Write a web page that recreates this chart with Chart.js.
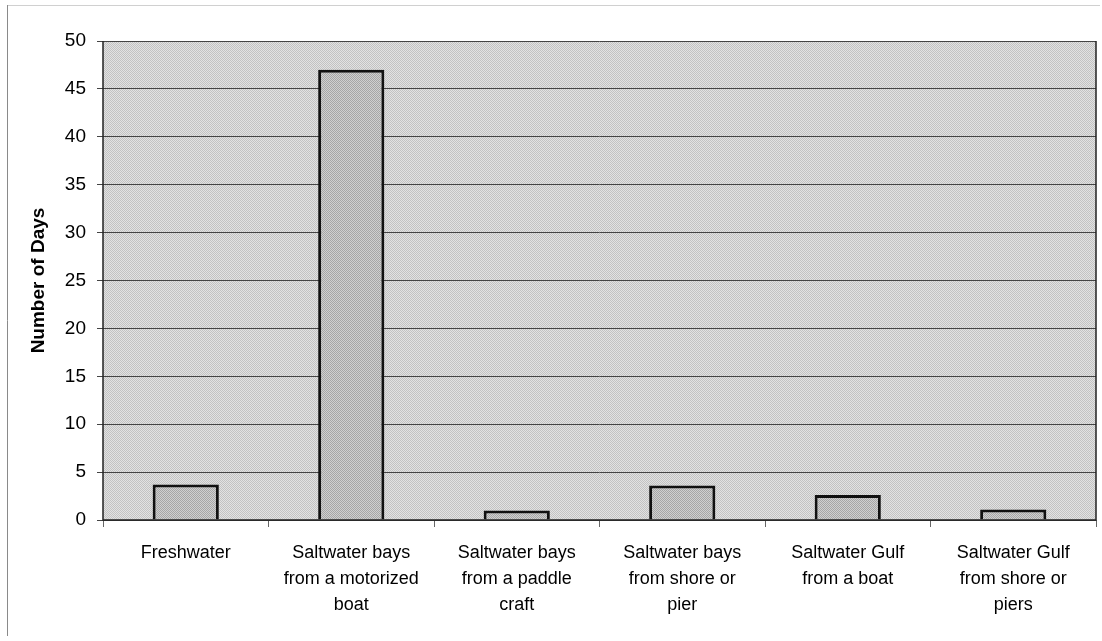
<!DOCTYPE html>
<html>
<head>
<meta charset="utf-8">
<script src="https://cdn.jsdelivr.net/npm/chart.js@4/dist/chart.umd.min.js"></script>
<style>
  html, body { margin: 0; padding: 0; background: #fff; }
  #wrap { width: 1102px; height: 641px; position: relative; }
</style>
</head>
<body>
<div id="wrap"><canvas id="daysChart" width="1102" height="641"></canvas></div>
<script>
const categories = [
    ['Freshwater'],
    ['Saltwater bays', 'from a motorized', 'boat'],
    ['Saltwater bays', 'from a paddle', 'craft'],
    ['Saltwater bays', 'from shore or', 'pier'],
    ['Saltwater Gulf', 'from a boat'],
    ['Saltwater Gulf', 'from shore or', 'piers']
];
const days = [3.7, 47, 1.0, 3.6, 2.6, 1.1];
const yTicks = [0, 5, 10, 15, 20, 25, 30, 35, 40, 45, 50];

// small checker tile, like the halftone grey of the scan
function checker(c1, c2) {
    const t = document.createElement('canvas');
    t.width = 2; t.height = 2;
    const g = t.getContext('2d');
    g.fillStyle = c1; g.fillRect(0, 0, 2, 2);
    g.fillStyle = c2; g.fillRect(0, 0, 1, 1); g.fillRect(1, 1, 1, 1);
    return g.createPattern(t, 'repeat');
}

const plotFill = checker('#e2e2e2', '#c2c2c2');
const barFill = checker('#d0d0d0', '#a6a6a6');

const frame = {
    id: 'frame',
    beforeDraw(chart) {
        const ctx = chart.ctx;
        const a = chart.chartArea;
        ctx.save();
        ctx.fillStyle = plotFill;
        ctx.fillRect(a.left, a.top, a.right - a.left, a.bottom - a.top);
        ctx.strokeStyle = '#8a8a8a';
        ctx.lineWidth = 1;
        ctx.beginPath();
        ctx.moveTo(7.5, 5);
        ctx.lineTo(7.5, 636);
        ctx.stroke();
        ctx.strokeStyle = '#d0d0d0';
        ctx.beginPath();
        ctx.moveTo(8, 5.5);
        ctx.lineTo(1100, 5.5);
        ctx.stroke();
        ctx.restore();
    },
    afterDatasetsDraw(chart) {
        const ctx = chart.ctx;
        const a = chart.chartArea;
        ctx.save();
        ctx.strokeStyle = '#222';
        ctx.lineWidth = 1.5;
        ctx.beginPath();
        ctx.moveTo(a.left, a.top);
        ctx.lineTo(a.left, a.bottom);
        ctx.lineTo(a.right, a.bottom);
        ctx.lineTo(a.right, a.top);
        ctx.stroke();
        ctx.restore();
    }
};

new Chart(document.getElementById('daysChart').getContext('2d'), {
    type: 'bar',
    data: {
        labels: categories,
        datasets: [{
            label: 'Number of Days',
            data: days,
            backgroundColor: barFill,
            borderColor: '#111',
            borderWidth: 3,
            categoryPercentage: 1,
            barPercentage: 0.4
        }]
    },
    options: {
        responsive: false,
        animation: false,
        layout: { padding: { top: 41, right: 6, bottom: 0, left: 27 } },
        plugins: {
            legend: { display: false },
            tooltip: { enabled: false }
        },
        scales: {
            x: {
                grid: { drawOnChartArea: false, drawTicks: true, tickLength: 7, color: '#666', offset: true },
                border: { display: false },
                ticks: {
                    color: '#000',
                    font: { family: 'Liberation Sans, Arial', size: 18, lineHeight: 1.45 },
                    padding: 13,
                    maxRotation: 0,
                    autoSkip: false
                },
                afterFit(scale) { scale.height = 121; }
            },
            y: {
                min: 0,
                max: 50,
                afterBuildTicks(scale) { scale.ticks = yTicks.map(v => ({ value: v })); },
                grid: { color: '#444', lineWidth: 1, drawTicks: true, tickLength: 6 },
                border: { display: false },
                ticks: {
                    color: '#000',
                    font: { family: 'Liberation Sans, Arial', size: 19 },
                    padding: 11
                },
                title: {
                    display: true,
                    text: 'Number of Days',
                    color: '#000',
                    font: { family: 'Liberation Sans, Arial', size: 19, weight: 'bold' },
                    padding: { top: 0, bottom: 0 }
                },
                afterFit(scale) { scale.width = 76; }
            }
        }
    },
    plugins: [frame]
});
</script>
</body>
</html>
